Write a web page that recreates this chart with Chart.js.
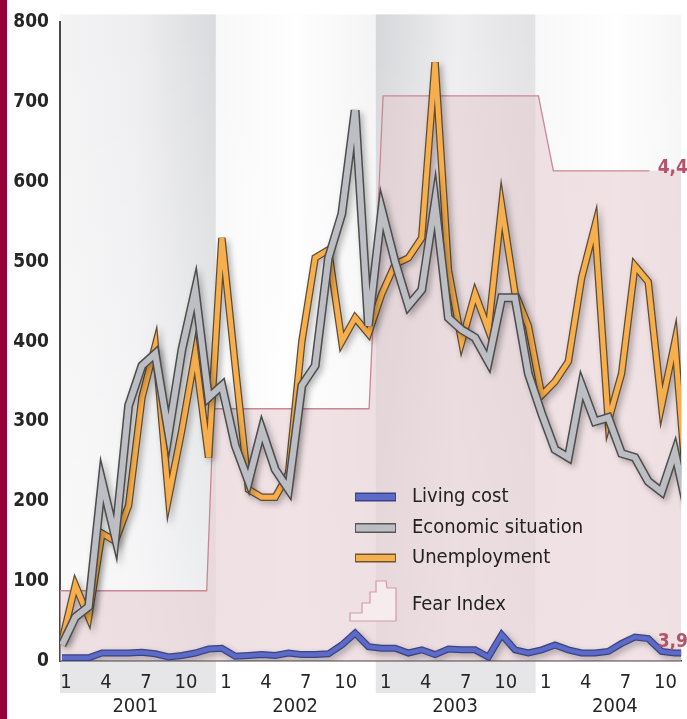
<!DOCTYPE html>
<html lang="en">
<head>
<meta charset="UTF-8">
<title>Fear Index 2001-2004</title>
<script src="https://cdn.jsdelivr.net/npm/chart.js"></script>
<style>
  html, body { margin: 0; padding: 0; background: #fff; }
  #wrap { position: relative; width: 687px; height: 719px; overflow: hidden; }
  #strip { position: absolute; left: 0; top: 0; width: 7px; height: 719px; background: #98003a; }
  canvas { position: absolute; left: 0; top: 0; }
</style>
</head>
<body>
<div id="wrap">
  <canvas id="chart" width="687" height="719"></canvas>
  <div id="strip"></div>
</div>
<script>
// monthly values, Jan 2001 .. Dec 2004
const years = ['2001', '2002', '2003', '2004'];
const monthLabels = ['1', '4', '7', '10'];
const yTicks = [0, 100, 200, 300, 400, 500, 600, 700, 800];

const unemployment = [
  25, 95, 55, 160, 150, 195, 330, 395, 205, 290, 385, 255,
  530, 370, 215, 205, 205, 235, 400, 505, 515, 400, 430, 410,
  460, 497, 505, 530, 750, 490, 400, 460, 415, 570, 461, 420,
  333, 350, 375, 480, 545, 300, 360, 495, 475, 320, 400, 190
];
const economic = [
  20, 55, 68, 225, 155, 320, 370, 385, 285, 390, 465, 330,
  345, 270, 225, 290, 240, 215, 345, 370, 505, 560, 690, 420,
  565, 500, 445, 465, 575, 430, 415, 405, 375, 455, 455, 360,
  310, 265, 255, 345, 300, 305, 260, 255, 225, 212, 262, 185
];
const livingCost = [
  4, 4, 4, 10, 10, 10, 11, 9, 5, 7, 10, 15,
  16, 6, 7, 8, 7, 10, 8, 8, 9, 20, 35, 18,
  16, 16, 10, 14, 8, 15, 14, 14, 5, 33, 14, 10,
  14, 20, 14, 10, 10, 12, 22, 30, 28, 12, 10, 10
];
// fear index steps (month position, level on the same scale)
const fearX = [-0.2, 10.86, 11.38, 23.05, 24.1, 35.76, 36.88, 47];
const fearY = [88, 88, 316, 316, 708, 708, 614, 614];
const fearLineEnd = 44.1;
const fearLabels = ['4,4', '3,9'];

const seriesNames = ['Living cost', 'Economic situation', 'Unemployment', 'Fear Index'];

const FONT = "'DejaVu Sans Condensed', 'Liberation Sans Narrow', sans-serif";
const pts = arr => arr.map((v, i) => ({ x: i, y: v }));
const fearPts = fearX.map((v, i) => ({ x: v, y: fearY[i] }));

function lineSet(data, color, width, order, outline) {
  return {
    data: pts(data), borderColor: color, borderWidth: width, order: order,
    pointRadius: 0, tension: 0, fill: false, borderJoinStyle: 'miter',
    shadow: outline
  };
}

// year bands + label row shading, drawn under everything
const bands = {
  id: 'bands',
  beforeDraw(chart) {
    const { ctx, chartArea: a, scales: { x } } = chart;
    ctx.save();
    ctx.beginPath();
    ctx.rect(a.left, 0, a.right - a.left, 719);
    ctx.clip();
    years.forEach((y, k) => {
      const x0 = x.getPixelForValue(12 * k - 0.45);
      const x1 = x.getPixelForValue(12 * k + 11.55);
      const g = ctx.createLinearGradient(x0, 0, x1, 0);
      if (k % 2 === 0) {
        g.addColorStop(0, k === 0 ? '#f4f4f5' : '#d6d7da');
        g.addColorStop(0.5, '#eeeef0');
        g.addColorStop(1, k === 0 ? '#dadbde' : '#e2e2e5');
      } else {
        g.addColorStop(0, '#f8f8f9');
        g.addColorStop(0.5, '#fefefe');
        g.addColorStop(1, '#f4f4f5');
      }
      ctx.fillStyle = g;
      ctx.fillRect(x0, a.top - 8, x1 - x0, a.bottom - a.top + 8);
      if (k % 2 === 0) {
        ctx.fillStyle = '#e6e6e8';
        ctx.fillRect(x0, a.bottom, x1 - x0, 32);
      }
    });
    // fade towards the bottom
    const v = ctx.createLinearGradient(0, a.top, 0, a.bottom);
    v.addColorStop(0, 'rgba(255,255,255,0)');
    v.addColorStop(1, 'rgba(255,255,255,0.55)');
    ctx.fillStyle = v;
    ctx.fillRect(a.left, a.top - 8, a.right - a.left, a.bottom - a.top + 8);
    ctx.restore();
  }
};

// soft drop shadow behind outlined lines
const shadow = {
  id: 'shadow',
  beforeDatasetDraw(chart, args) {
    if (!args.meta._dataset.shadow) return;
    const ctx = chart.ctx;
    ctx.save();
    ctx.shadowColor = 'rgba(0,0,0,0.28)';
    ctx.shadowBlur = 6;
    ctx.shadowOffsetX = 3;
    ctx.shadowOffsetY = 3;
  },
  afterDatasetDraw(chart, args) {
    if (args.meta._dataset.shadow) chart.ctx.restore();
  }
};

const extras = {
  id: 'extras',
  afterDraw(chart) {
    const { ctx, scales: { x } } = chart;
    ctx.save();
    ctx.font = '20px ' + FONT;
    ctx.fillStyle = '#262626';
    ctx.textAlign = 'center';
    ctx.textBaseline = 'middle';
    years.forEach((y, k) => ctx.fillText(y, x.getPixelForValue(12 * k + 5.5), 707));

    // fear index end labels
    ctx.font = 'bold 19px ' + FONT;
    ctx.fillStyle = '#b6536b';
    ctx.textAlign = 'right';
    ctx.fillText(fearLabels[0], 688, 168);
    ctx.fillText(fearLabels[1], 688, 642);

    // legend
    const lx0 = 355, lx1 = 396, tx = 412;
    const rows = [
      { y: 497, c: '#5d6bc8', o: '#3b4282', w: 7 },
      { y: 528, c: '#bcbec3', o: '#555555', w: 8 },
      { y: 558, c: '#f7ae4c', o: '#6a5535', w: 7 }
    ];
    rows.forEach((r, i) => {
      ctx.fillStyle = r.o;
      ctx.fillRect(lx0, r.y - r.w / 2 - 1, lx1 - lx0, r.w + 2);
      ctx.fillStyle = r.c;
      ctx.fillRect(lx0 + 1, r.y - r.w / 2 + 0.5, lx1 - lx0 - 2, r.w - 1);
      ctx.font = '20px ' + FONT;
      ctx.fillStyle = '#222';
      ctx.textAlign = 'left';
      ctx.fillText(seriesNames[i], tx, r.y);
    });
    // fear index icon
    ctx.beginPath();
    ctx.moveTo(350, 621);
    ctx.lineTo(350, 613);
    ctx.lineTo(362, 613);
    ctx.lineTo(362, 603);
    ctx.lineTo(370, 603);
    ctx.lineTo(370, 592);
    ctx.lineTo(376, 592);
    ctx.lineTo(376, 581);
    ctx.lineTo(386, 581);
    ctx.lineTo(387, 588);
    ctx.lineTo(396, 588);
    ctx.lineTo(396, 621);
    ctx.closePath();
    ctx.fillStyle = '#f6eced';
    ctx.fill();
    ctx.strokeStyle = '#d39aa6';
    ctx.lineWidth = 1.2;
    ctx.stroke();
    ctx.fillStyle = '#222';
    ctx.fillText(seriesNames[3], tx, 605);
    ctx.restore();
  }
};

new Chart(document.getElementById('chart'), {
  type: 'line',
  data: {
    datasets: [
      lineSet(livingCost, '#5d6bc8', 4.5, 1, false),
      lineSet(livingCost, '#3b4282', 7, 2, true),
      lineSet(economic, '#bcbec3', 6, 3, false),
      lineSet(economic, '#4d4d4d', 9, 4, true),
      lineSet(unemployment, '#f7ae4c', 5, 5, false),
      lineSet(unemployment, '#5e4c33', 7.5, 6, true),
      {
        // fear index outline, stops before its end label
        data: fearPts.filter(p => p.x < fearLineEnd).concat([{ x: fearLineEnd, y: fearY[fearY.length - 1] }]),
        order: 9, pointRadius: 0, tension: 0, fill: false,
        borderWidth: 1.3, borderColor: '#c98795'
      },
      {
        // fear index area
        data: fearPts,
        order: 10, pointRadius: 0, tension: 0, borderWidth: 0,
        backgroundColor: 'rgba(228,200,206,0.52)',
        fill: 'origin'
      }
    ]
  },
  options: {
    responsive: false,
    animation: false,
    devicePixelRatio: 1,
    layout: { padding: { top: 18, right: 0, left: 0, bottom: 0 } },
    plugins: { legend: { display: false }, tooltip: { enabled: false } },
    scales: {
      x: {
        type: 'linear', min: -0.15, max: 46.47,
        grid: { display: false, drawTicks: false },
        border: { display: true, color: '#4a4a4a', width: 1.5 },
        afterBuildTicks: s => { s.ticks = []; for (let i = 0; i < 48; i += 3) s.ticks.push({ value: i + 0.3 }); },
        afterFit: s => { s.height = 58; },
        ticks: {
          autoSkip: false, maxRotation: 0, padding: 10, color: '#262626',
          font: { family: FONT, size: 20 },
          callback: (v, i) => monthLabels[i % 4]
        }
      },
      y: {
        min: 0, max: 800,
        grid: { display: false, drawTicks: false },
        border: { display: true, color: '#4a4a4a', width: 2 },
        afterBuildTicks: s => { s.ticks = yTicks.map(v => ({ value: v })); },
        afterFit: s => { s.width = 60; },
        ticks: {
          padding: 11, color: '#262626',
          font: { family: FONT, size: 19, weight: 'bold' }
        }
      }
    }
  },
  plugins: [bands, shadow, extras]
});
</script>
</body>
</html>
